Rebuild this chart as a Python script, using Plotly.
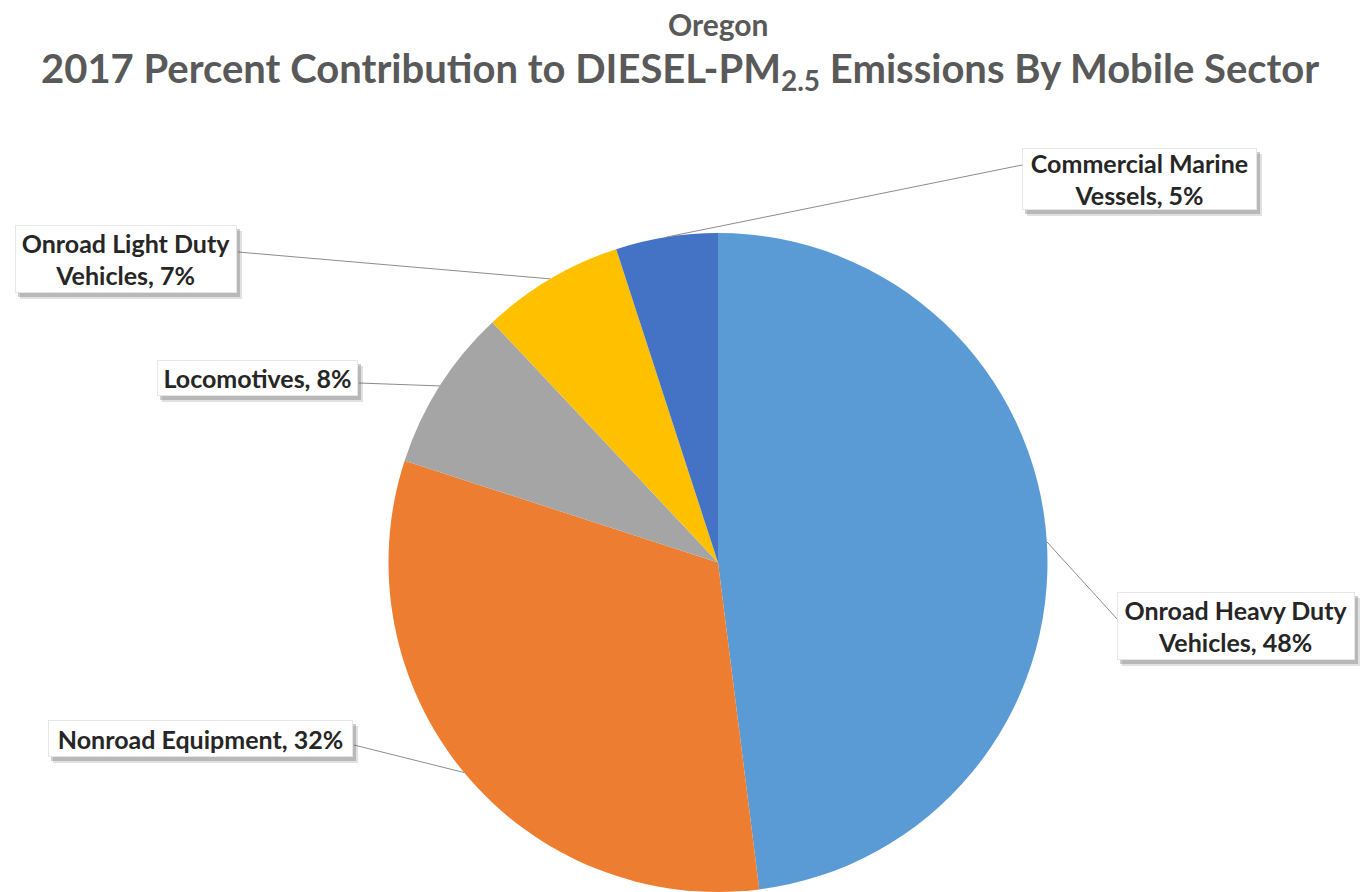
import math
import plotly.graph_objects as go

# ---- data ----
sectors = ["Onroad Heavy Duty Vehicles", "Nonroad Equipment", "Locomotives",
           "Onroad Light Duty Vehicles", "Commercial Marine Vessels"]
label_text = ["Onroad Heavy Duty<br>Vehicles, 48%", "Nonroad Equipment, 32%", "Locomotives, 8%",
              "Onroad Light Duty<br>Vehicles, 7%", "Commercial Marine<br>Vessels, 5%"]
percent = [48, 32, 8, 7, 5]
colors = ["#5B9BD5", "#ED7D31", "#A5A5A5", "#FFC000", "#4472C4"]

# ---- layout constants (pixels) ----
W, H = 1360, 892
CX, CY, R = 718, 562.5, 329.5
# label box centres and sizes (pixels)
label_pos = [(1236, 626), (200.5, 738.5), (257.5, 378), (126, 259), (1139.5, 179)]
label_size = [(238, 68), (305, 37), (201, 36), (222, 68), (235, 62)]
# leader end points (pixels)
leader_end = [(1118, 620), (354, 745), (359, 383), (238, 252), (1022, 165)]


def px(x):
    return x / W


def py(y):
    return 1 - y / H


fig = go.Figure(go.Pie(
    labels=sectors, values=percent, sort=False, direction="clockwise", rotation=0,
    marker=dict(colors=colors, line=dict(width=0)), textinfo="none",
    hoverinfo="label+percent",
    domain=dict(x=[px(CX - R), px(CX + R)], y=[0, py(CY - R)]),
    showlegend=False,
))

shapes = []
annotations = []
total = sum(percent)
cum = 0
for i, v in enumerate(percent):
    mid = (cum + v / 2) / total * 2 * math.pi
    cum += v
    sx = CX + R * math.sin(mid)
    sy = CY - R * math.cos(mid)
    ex, ey = leader_end[i]
    shapes.append(dict(type="line", xref="paper", yref="paper",
                       x0=px(sx), y0=py(sy), x1=px(ex), y1=py(ey),
                       line=dict(color="#8c8c8c", width=1)))
    lx, ly = label_pos[i]
    bw, bh = label_size[i]
    # soft shadow (two layers)
    for off, alpha in ((5, 0.18), (3, 0.30)):
        shapes.append(dict(type="rect", xref="paper", yref="paper",
                           x0=px(lx - bw / 2 + off), x1=px(lx + bw / 2 + off),
                           y0=py(ly - bh / 2 + off + 1), y1=py(ly + bh / 2 + off + 1),
                           fillcolor="rgba(90,90,90,%s)" % alpha, line=dict(width=0), layer="above"))
    annotations.append(dict(xref="paper", yref="paper", x=px(lx), y=py(ly),
                            text="<b>%s</b>" % label_text[i],
                            showarrow=False, xanchor="center", yanchor="middle", align="center",
                            valign="middle", width=bw - 2, height=bh - 2, borderpad=0,
                            font=dict(family="Lato", size=25, color="#262626"),
                            bgcolor="white", bordercolor="#e6e6e6", borderwidth=1))

# titles
annotations.append(dict(xref="paper", yref="paper", x=px(CX), y=py(24), text="<b>Oregon</b>",
                        showarrow=False, xanchor="center", yanchor="middle",
                        font=dict(family="Lato", size=30, color="#595959")))
annotations.append(dict(xref="paper", yref="paper", x=px(680), y=py(70),
                        text="<b>2017 Percent Contribution to DIESEL-PM<sub>2.5</sub> Emissions By Mobile Sector</b>",
                        showarrow=False, xanchor="center", yanchor="middle",
                        font=dict(family="Lato", size=40, color="#595959")))

fig.update_layout(width=W, height=H, margin=dict(l=0, r=0, t=0, b=0),
                  paper_bgcolor="white", plot_bgcolor="white",
                  shapes=shapes, annotations=annotations)

fig.write_html("out.html")
